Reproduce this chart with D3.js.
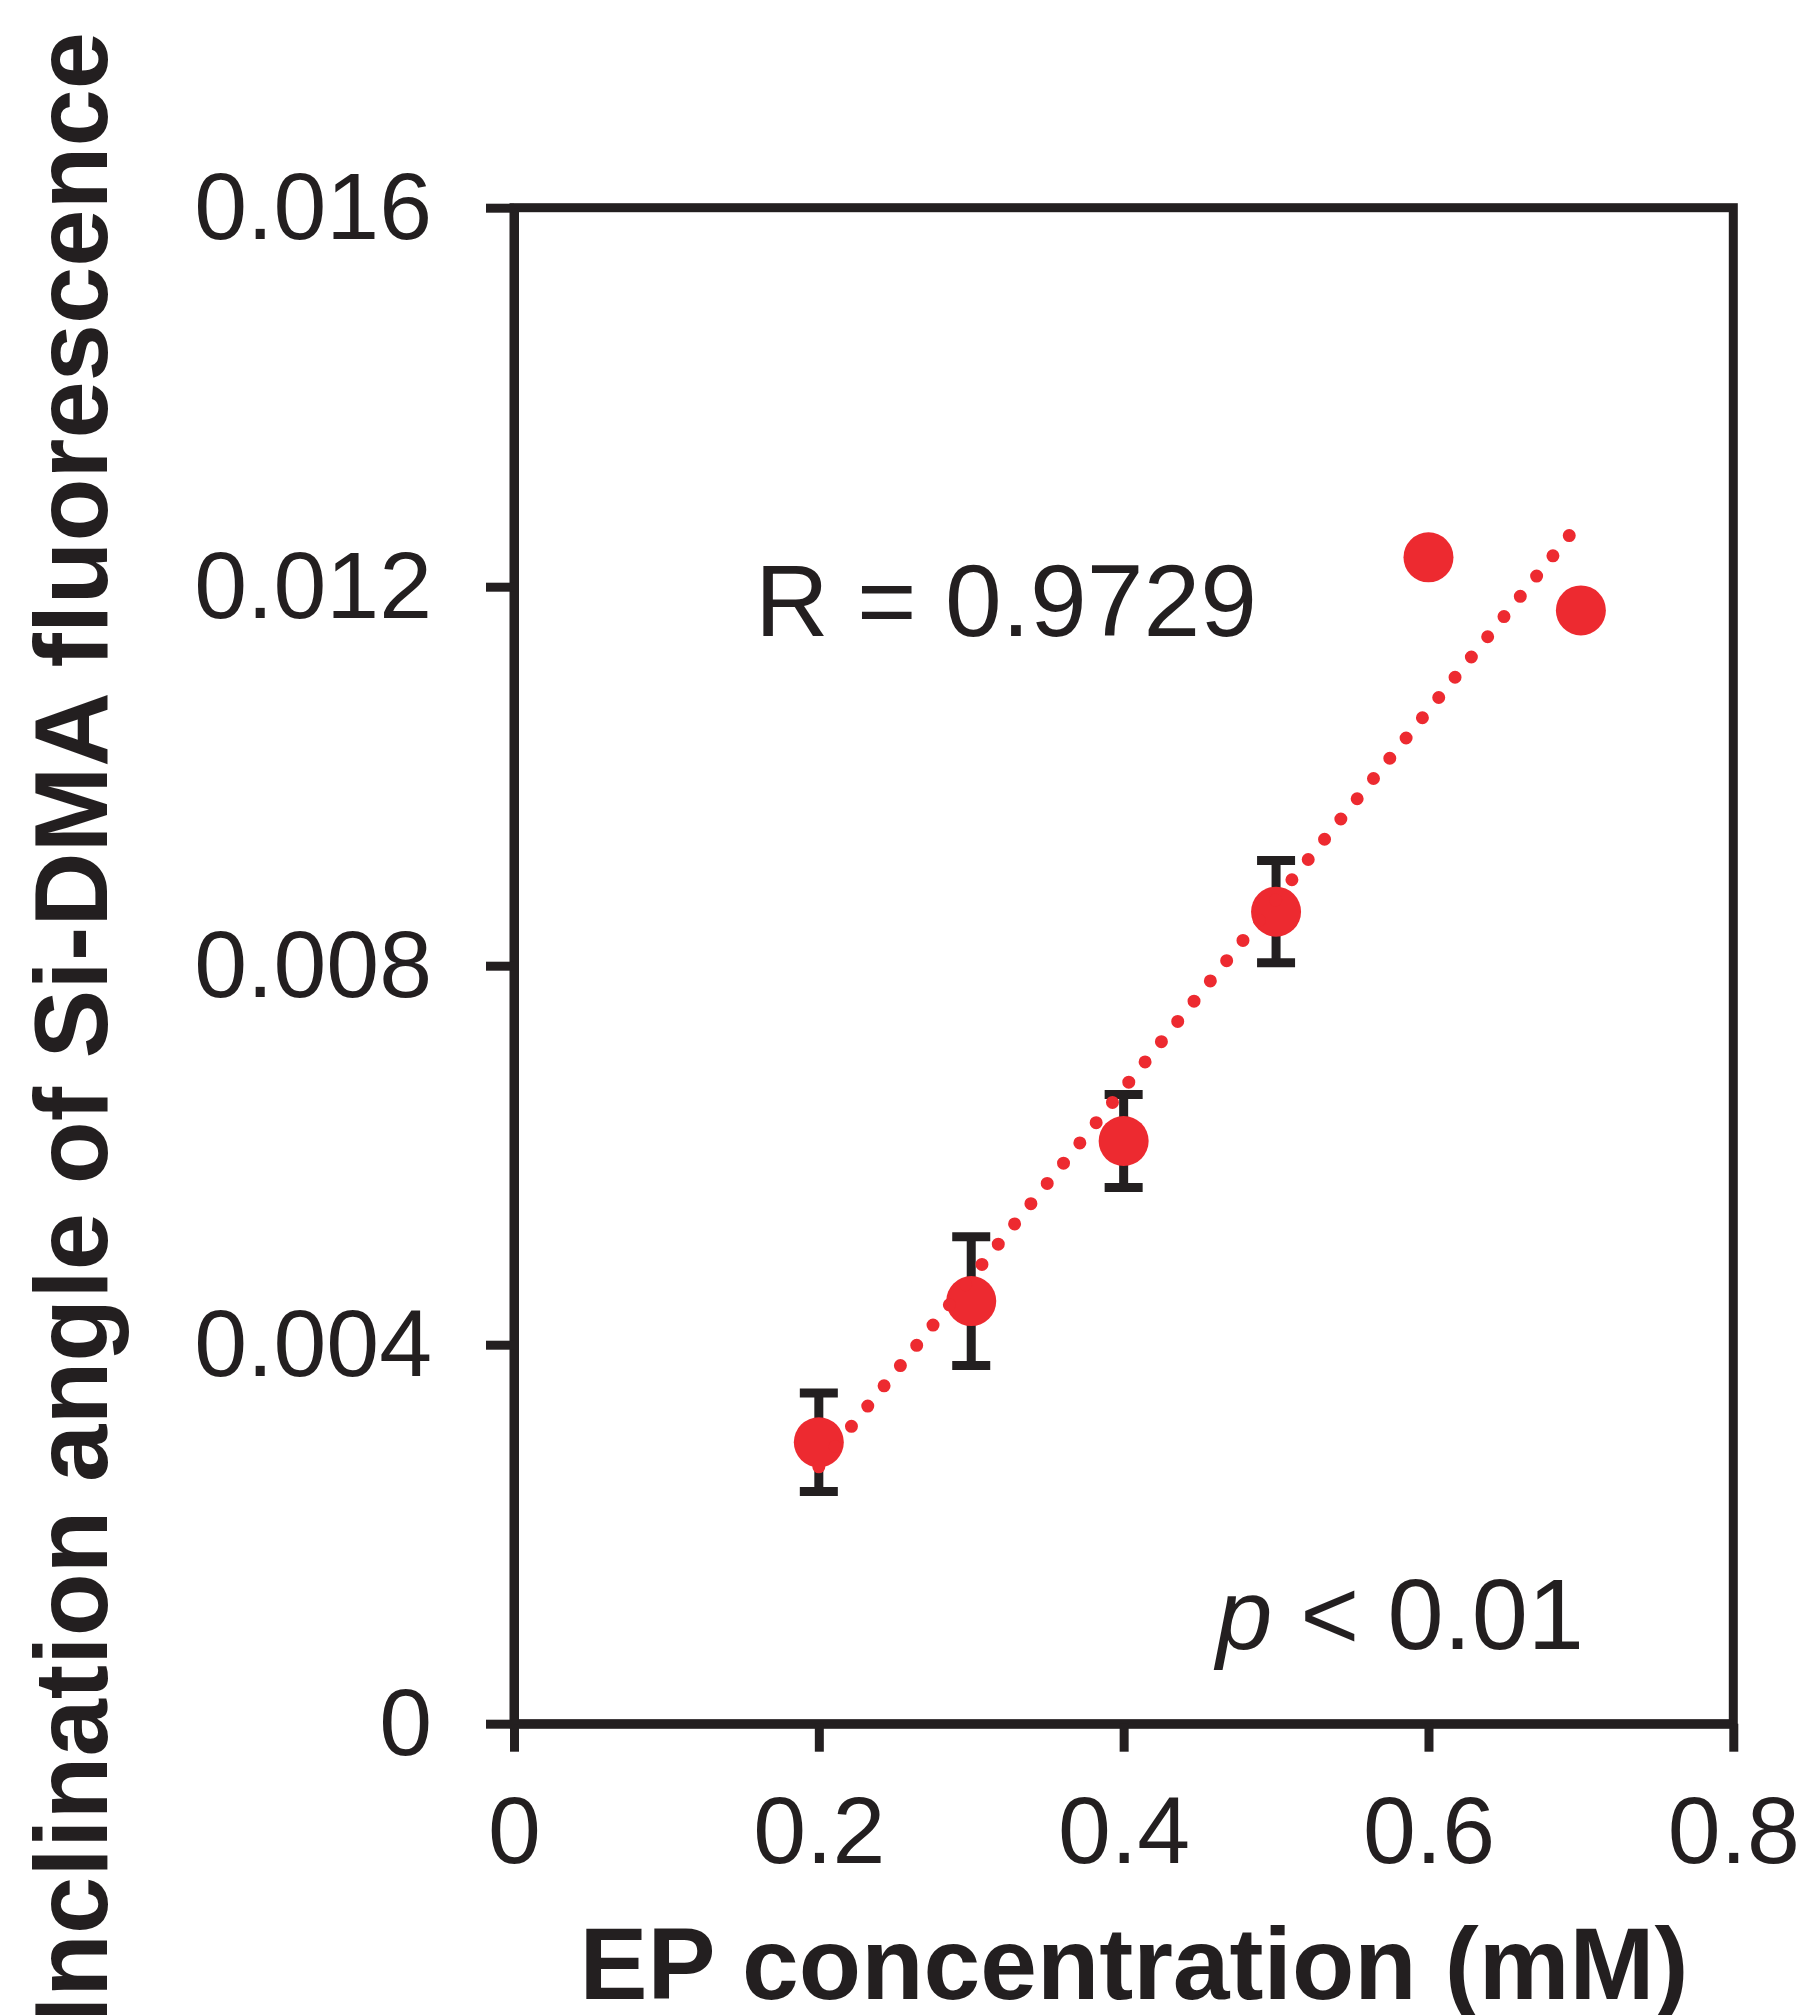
<!DOCTYPE html>
<html>
<head>
<meta charset="utf-8">
<script src="https://cdn.jsdelivr.net/npm/d3@7"></script>
<style>
  body { margin: 0; background: #fff; }
  text { font-family: Arial, "Liberation Sans", Helvetica, sans-serif; fill: #231f20; }
</style>
</head>
<body>
<div id="root"></div>
<script>
// Concentrazioni EP (mM) e angolo di inclinazione
const concentrations = [0.2, 0.3, 0.4, 0.5, 0.6, 0.7];
const angles = [0.00297, 0.00446, 0.00615, 0.00857, 0.01231, 0.01175];
const errors = [0.00052, 0.00068, 0.00049, 0.00054, null, null];

const xTicks = [0, 0.2, 0.4, 0.6, 0.8];
const yTicks = [0, 0.004, 0.008, 0.012, 0.016];

const rText = "R = 0.9729";
const xTitle = "EP concentration (mM)";
const yTitle = "Inclination angle of Si-DMA fluorescence";

const ink = "#231f20";
const red = "#ed2a30";

// Dimensioni
const W = 1800, H = 2015;
const margin = { top: 207.7, right: 66.7, bottom: 291.3, left: 514 };
const width = W - margin.left - margin.right;
const height = H - margin.top - margin.bottom;

const x = d3.scaleLinear().domain([0, 0.8]).range([0, width]);
const y = d3.scaleLinear().domain([0, 0.016]).range([height, 0]);

const svg = d3.select("#root").append("svg")
    .attr("width", W)
    .attr("height", H);

const g = svg.append("g")
    .attr("transform", `translate(${margin.left},${margin.top})`);

// Cornice
g.append("rect")
    .attr("x", 0).attr("y", 0)
    .attr("width", width).attr("height", height)
    .attr("fill", "none")
    .attr("stroke", ink)
    .attr("stroke-width", 9);

// Assi
const xAxis = d3.axisBottom(x)
    .tickValues(xTicks)
    .tickSize(28).tickSizeOuter(0).tickPadding(44)
    .tickFormat(d => d === 0 ? "0" : d3.format(".1f")(d));

const yAxis = d3.axisLeft(y)
    .tickValues(yTicks)
    .tickSize(28).tickSizeOuter(0).tickPadding(54)
    .tickFormat(d => d === 0 ? "0" : d3.format(".3f")(d));

const gx = g.append("g")
    .attr("transform", `translate(0,${height})`)
    .call(xAxis);
const gy = g.append("g").call(yAxis);

[gx, gy].forEach(a => {
    a.select(".domain").attr("stroke", ink).attr("stroke-width", 9);
    a.selectAll(".tick line").attr("stroke", ink).attr("stroke-width", 9);
    a.selectAll(".tick text")
        .attr("fill", ink)
        .style("font-size", "95px")
        .style("font-family", "Arial, 'Liberation Sans', sans-serif");
});

// Barre di errore
const points = concentrations.map((c, i) => ({ x: c, y: angles[i], e: errors[i] }));
const eb = g.append("g").attr("stroke", ink).attr("stroke-width", 9);
points.filter(d => d.e != null).forEach(d => {
    const cx = x(d.x);
    eb.append("line")
        .attr("x1", cx).attr("x2", cx)
        .attr("y1", y(d.y + d.e)).attr("y2", y(d.y - d.e));
    [d.y + d.e, d.y - d.e].forEach(v => {
        eb.append("line")
            .attr("x1", cx - 19).attr("x2", cx + 19)
            .attr("y1", y(v)).attr("y2", y(v));
    });
});

// Punti
g.append("g").selectAll("circle")
    .data(points)
    .join("circle")
    .attr("cx", d => x(d.x))
    .attr("cy", d => y(d.y))
    .attr("r", 25)
    .attr("fill", red);

// Linea di tendenza (regressione lineare sui dati)
const mx = d3.mean(points, d => d.x), my = d3.mean(points, d => d.y);
const slope = d3.sum(points, d => (d.x - mx) * (d.y - my)) / d3.sum(points, d => (d.x - mx) ** 2);
const icpt = my - slope * mx;
const xr = d3.extent(concentrations);
g.append("path")
    .datum(xr.map(v => [v, icpt + slope * v]))
    .attr("fill", "none")
    .attr("stroke", red)
    .attr("stroke-width", 13)
    .attr("stroke-linecap", "round")
    .attr("stroke-dasharray", "0 26")
    .attr("d", d3.line().x(d => x(d[0])).y(d => y(d[1])));

// Annotazioni
svg.append("text")
    .attr("x", 755)
    .attr("y", 636)
    .style("font-size", "102px")
    .text(rText);

const pt = svg.append("text")
    .attr("x", 1584)
    .attr("y", 1649)
    .attr("text-anchor", "end")
    .style("font-size", "101px");
pt.append("tspan").style("font-style", "italic").text("p");
pt.append("tspan").text(" < 0.01");

// Titoli degli assi
svg.append("text")
    .attr("x", 1134)
    .attr("y", 1999)
    .attr("text-anchor", "middle")
    .style("font-size", "102px")
    .style("font-weight", "bold")
    .text(xTitle);

svg.append("text")
    .attr("transform", "translate(107,32) rotate(-90)")
    .attr("text-anchor", "end")
    .style("font-size", "103px")
    .style("font-weight", "bold")
    .text(yTitle);
</script>
</body>
</html>
